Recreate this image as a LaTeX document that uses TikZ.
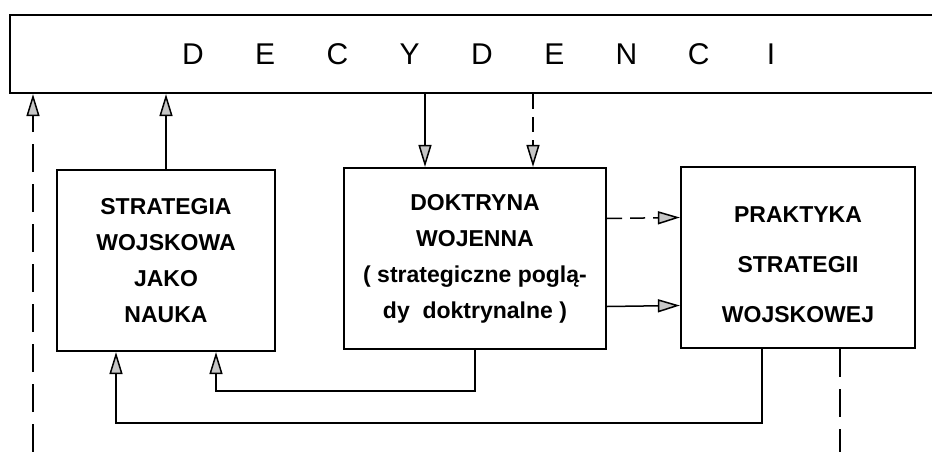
\documentclass[tikz,border=0pt]{standalone}
\usepackage{fontspec}
\setmainfont{Liberation Sans}
\usetikzlibrary{arrows.meta}
\tikzset{
  blok/.style={draw, line width=2.2pt, align=center,
    font=\fontsize{23}{36}\selectfont\bfseries},
  strz/.style={line width=1.5pt, -{Triangle[length=22pt,width=13pt,fill=gray!45]}},
  kresk/.style={dash pattern=on 15pt off 8pt},
  dlkresk/.style={dash pattern=on 28pt off 12pt},
}

\begin{document}
\begin{tikzpicture}[x=1pt,y=-1pt]
  \useasboundingbox (0,0) rectangle (932,452);
  % decydenci
  \node[draw, line width=2.2pt, minimum width=945pt, minimum height=78pt] (dec) at (482.5,54) {};
  \foreach \z [count=\i] in {D,E,C,Y,D,E,N,C,I}
    \node[font=\fontsize{30}{32}\selectfont] (dec\i) at (193+72.25*\i-72.25,54) {\z};
  % bloki
  \node[blok, minimum width=218pt, minimum height=181pt] (strat) at (166,260.5)
    {STRATEGIA\\WOJSKOWA\\JAKO\\NAUKA};
  \node[blok, minimum width=262pt, minimum height=181pt] (doktr) at (475,258.5)
    {DOKTRYNA\\WOJENNA\\( strategiczne poglą-\\dy\ \ doktrynalne )};
  \node[blok, minimum width=234pt, minimum height=181pt,
    font=\fontsize{23}{50}\selectfont\bfseries] (prakt) at (798,257.5)
    {\rule{0pt}{30pt}PRAKTYKA\\STRATEGII\\WOJSKOWEJ};
  % polaczenia
  \coordinate (lo) at (33,452);
  \coordinate (d1) at (425,0);
  \coordinate (d2) at (533,0);
  \draw[strz,dlkresk] (lo) -- (lo |- dec.south);
  \draw[strz] (strat.north) -- (strat.north |- dec.south);
  \draw[strz] (d1 |- dec.south) -- (d1 |- doktr.north);
  \draw[strz,kresk] (d2 |- dec.south) -- (d2 |- doktr.north);
  \draw[strz,kresk] ([yshift=40pt]doktr.east) -- ([yshift=40pt]prakt.west);
  \draw[strz] ([yshift=-48pt]doktr.east) -- ([yshift=-48pt]prakt.west);
  \draw[strz] (doktr.south) -- ++(0,41) -| ([xshift=50pt]strat.south);
  \draw[strz] ([xshift=-36pt]prakt.south) -- ++(0,74) -| ([xshift=-50pt]strat.south);
  \draw[line width=1.5pt,dlkresk] ([xshift=42pt]prakt.south) -- ++(0,110);
\end{tikzpicture}
\end{document}
